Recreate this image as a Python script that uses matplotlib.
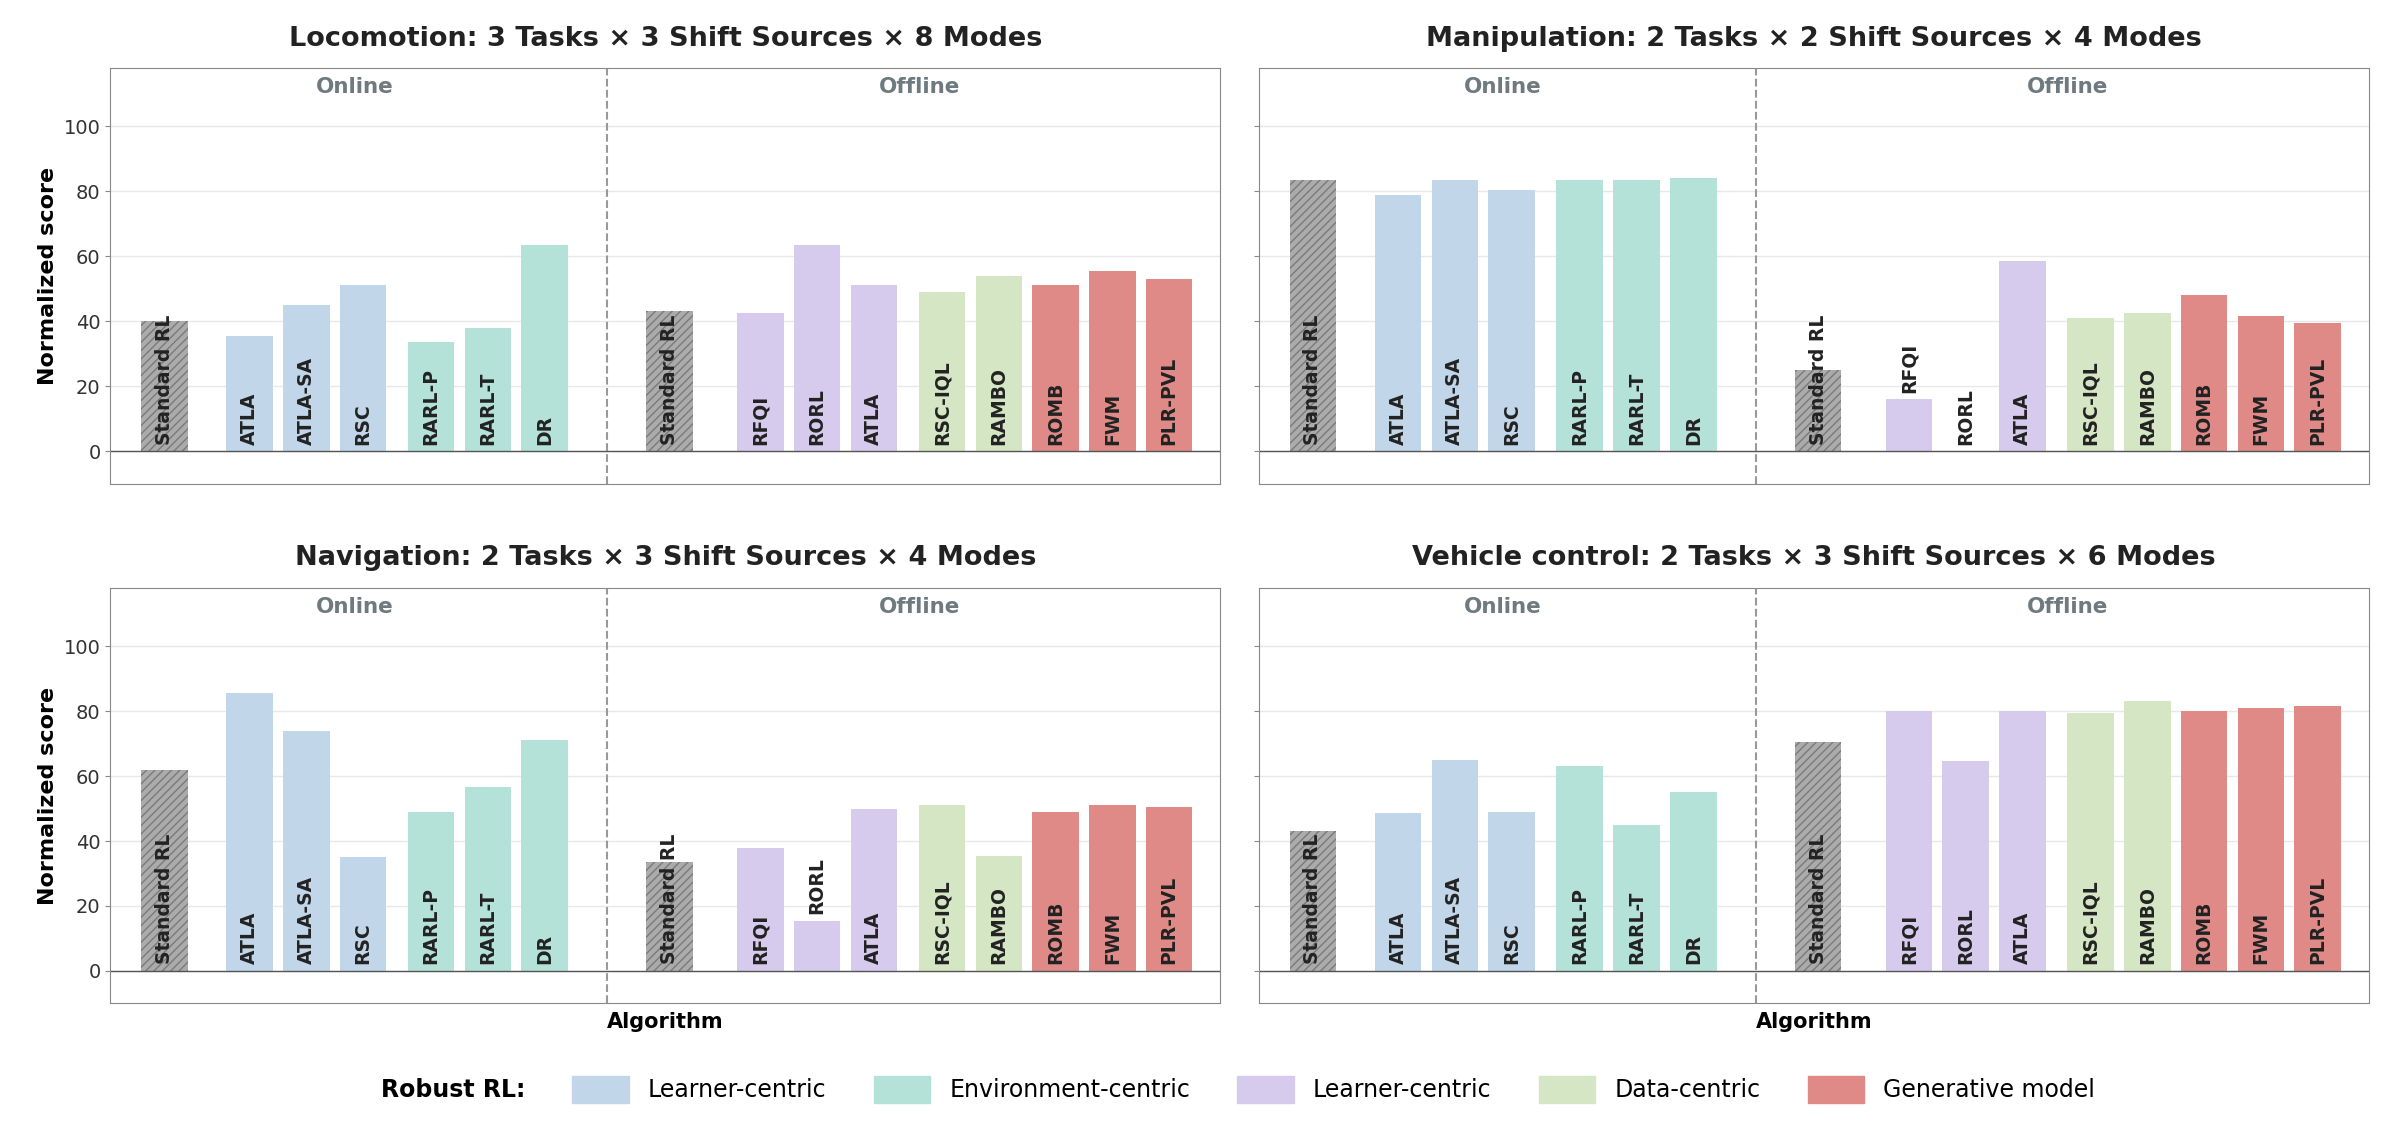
import matplotlib
matplotlib.use("Agg")
import matplotlib.pyplot as plt
from matplotlib.patches import Patch

titles = ["Locomotion: 3 Tasks × 3 Shift Sources × 8 Modes",
          "Manipulation: 2 Tasks × 2 Shift Sources × 4 Modes",
          "Navigation: 2 Tasks × 3 Shift Sources × 4 Modes",
          "Vehicle control: 2 Tasks × 3 Shift Sources × 6 Modes"]
online_names = ["Standard RL", "ATLA", "ATLA-SA", "RSC", "RARL-P", "RARL-T", "DR"]
online_groups = ["std", "learn_on", "learn_on", "learn_on", "env", "env", "env"]
offline_names = ["Standard RL", "RFQI", "RORL", "ATLA", "RSC-IQL", "RAMBO", "ROMB", "FWM", "PLR-PVL"]
offline_groups = ["std", "learn_off", "learn_off", "learn_off", "data", "data", "gen", "gen", "gen"]

online_vals = [
    [40, 35.5, 45, 51, 33.5, 38, 63.5],
    [83.5, 79, 83.5, 80.5, 83.5, 83.5, 84],
    [62, 85.5, 74, 35, 49, 56.5, 71],
    [43, 48.5, 65, 49, 63, 45, 55],
]
offline_vals = [
    [43, 42.5, 63.5, 51, 49, 54, 51, 55.5, 53],
    [25, 16, 0, 58.5, 41, 42.5, 48, 41.5, 39.5],
    [33.5, 38, 15.5, 50, 51, 35.5, 49, 51, 50.5],
    [70.5, 80, 64.5, 80, 79.5, 83, 80, 81, 81.5],
]

colors = {"std": "#ababab", "learn_on": "#c2d6ea", "env": "#b5e2d8",
          "learn_off": "#d7cbed", "data": "#d4e6c3", "gen": "#e08a88"}
legend_items = [("learn_on", "Learner-centric"), ("env", "Environment-centric"),
                ("learn_off", "Learner-centric"), ("data", "Data-centric"),
                ("gen", "Generative model")]

on_pos = [0, 1.5, 2.5, 3.5, 4.7, 5.7, 6.7]
off_pos = [8.9, 10.5, 11.5, 12.5, 13.7, 14.7, 15.7, 16.7, 17.7]
divider = 7.8

plt.rcParams["hatch.color"] = "#7a7a7a"
fig, axes = plt.subplots(2, 2, figsize=(24, 11.3), dpi=100)
fig.subplots_adjust(left=0.046, right=0.987, top=0.94, bottom=0.112, wspace=0.035, hspace=0.25)

for i, ax in enumerate(axes.flat):
    names = online_names + offline_names
    groups = online_groups + offline_groups
    vals = online_vals[i] + offline_vals[i]
    pos = on_pos + off_pos
    for x, v, g, n in zip(pos, vals, groups, names):
        if g == "std":
            ax.bar(x, v, width=0.82, color=colors[g], hatch="////", linewidth=0, zorder=2)
        else:
            ax.bar(x, v, width=0.82, color=colors[g], zorder=2)
        y = v + 2 if v < 20 else 2
        ax.text(x, y, n, rotation=90, ha="center", va="bottom", fontsize=13.5,
                fontweight="bold", color="#222222", zorder=3)
    ax.axhline(0, color="#555555", lw=1, zorder=2)
    ax.axvline(divider, color="#999999", ls="--", lw=1.5, zorder=1)
    ax.text(3.35, 112, "Online", ha="center", va="center", fontsize=15.5, fontweight="bold", color="#6f7a80")
    ax.text(13.3, 112, "Offline", ha="center", va="center", fontsize=15.5, fontweight="bold", color="#6f7a80")
    ax.set_xlim(-0.95, 18.6)
    ax.set_ylim(-10, 118)
    ax.set_yticks([0, 20, 40, 60, 80, 100])
    ax.set_xticks([])
    ax.grid(axis="y", color="#e8e8e8", lw=1, zorder=0)
    ax.set_axisbelow(True)
    for s in ax.spines.values():
        s.set_color("#888888")
    ax.tick_params(axis="y", labelsize=14, color="#888888", labelcolor="#333333")
    ax.set_title(titles[i], fontsize=19.5, fontweight="bold", color="#222222", pad=16)
    if i % 2 == 0:
        ax.set_ylabel("Normalized score", fontsize=16, fontweight="bold")
    else:
        ax.set_yticklabels([])
    if i >= 2:
        ax.set_xlabel("Algorithm", fontsize=15, fontweight="bold", labelpad=6)

handles = [Patch(color="none", label="")] + [Patch(color=colors[g], label=l) for g, l in legend_items]
leg = fig.legend(handles=handles, labels=["Robust RL:"] + [l for _, l in legend_items],
                 loc="lower center", ncol=6, frameon=False, fontsize=17,
                 bbox_to_anchor=(0.5, 0.005), handlelength=2.4, handleheight=1.4, columnspacing=2.0)
leg.get_texts()[0].set_fontweight("bold")
leg.legend_handles[0].set_visible(False)
fig.savefig("out.png")
